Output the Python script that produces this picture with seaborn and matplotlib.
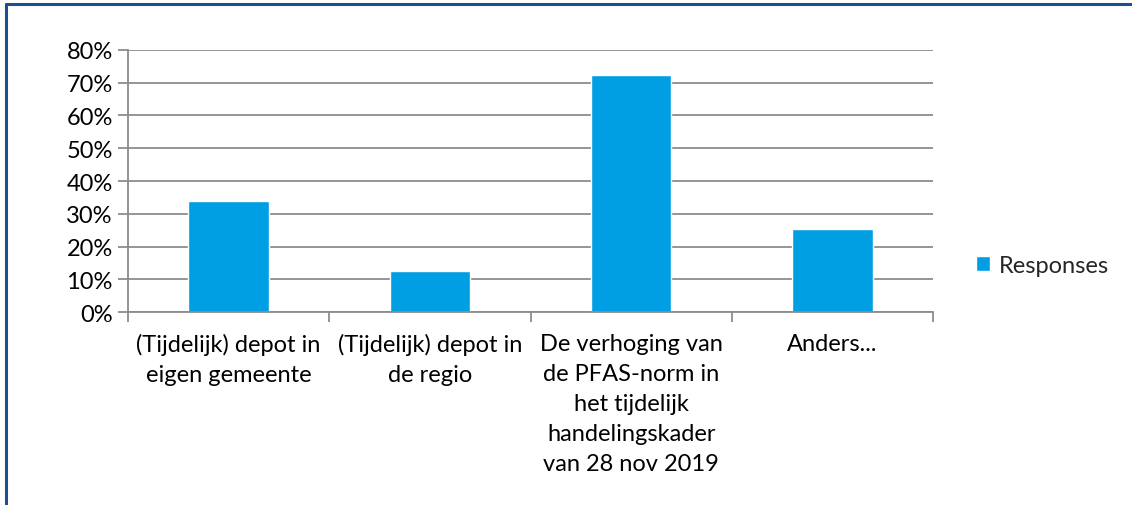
import pandas as pd
import seaborn as sns
import matplotlib.pyplot as plt
from matplotlib.ticker import PercentFormatter, FixedLocator
from matplotlib.lines import Line2D

categories = ['(Tijdelijk) depot in\neigen gemeente',
              '(Tijdelijk) depot in\nde regio',
              'De verhoging van\nde PFAS-norm in\nhet tijdelijk\nhandelingskader\nvan 28 nov 2019',
              'Anders...']
responses = [0.34, 0.125, 0.723, 0.254]
series_name = 'Responses'

df = pd.DataFrame({'category': categories, 'value': responses})

sns.set_style('white')
plt.rcParams['font.family'] = ['Lato', 'DejaVu Sans']

fig = plt.figure(figsize=(11.32, 5.06), dpi=100)
ax = fig.add_axes([0.1131, 0.3808, 0.7111, 0.5190])

sns.barplot(data=df, x='category', y='value', color='#009FE3', width=0.4,
            saturation=1, label=series_name, ax=ax)

ax.set_xlim(-0.5, len(categories) - 0.5)
ax.set_ylim(0, 0.8)
ax.set_yticks([i / 10 for i in range(9)])
ax.yaxis.set_major_formatter(PercentFormatter(1.0, decimals=0))
ax.grid(axis='y', color='#8C8C8C', lw=1.3)
ax.set_axisbelow(True)
ax.set_xlabel('')
ax.set_ylabel('')

for s in ['top', 'right']:
    ax.spines[s].set_visible(False)
for s in ['left', 'bottom']:
    ax.spines[s].set_color('#8C8C8C')
    ax.spines[s].set_linewidth(1.3)

ax.tick_params(axis='y', which='major', left=True, length=7, width=1.3,
               color='#8C8C8C', labelsize=17, pad=4, labelcolor='black')
ax.tick_params(axis='x', which='major', length=0, labelsize=17, pad=15,
               labelcolor='black')
ax.xaxis.set_minor_locator(FixedLocator([i - 0.5 for i in range(len(categories) + 1)]))
ax.tick_params(axis='x', which='minor', bottom=True, length=7, width=1.3,
               color='#8C8C8C')
for lbl in ax.get_xticklabels():
    lbl.set_linespacing(1.52)
    lbl.set_verticalalignment('top')

ax.legend(loc='center left', bbox_to_anchor=(1.027, 0.18), frameon=False,
          fontsize=17, handlelength=0.6, handleheight=0.6, handletextpad=0.35)

# dark blue frame edges (top and left)
fig.add_artist(Line2D([0.0053, 1.0], [0.990, 0.990], color='#1B4F8E', lw=2.2,
                      transform=fig.transFigure))
fig.add_artist(Line2D([0.0053, 0.0053], [0.0, 0.990], color='#1B4F8E', lw=2.2,
                      transform=fig.transFigure))

fig.savefig('out.png', dpi=100)
